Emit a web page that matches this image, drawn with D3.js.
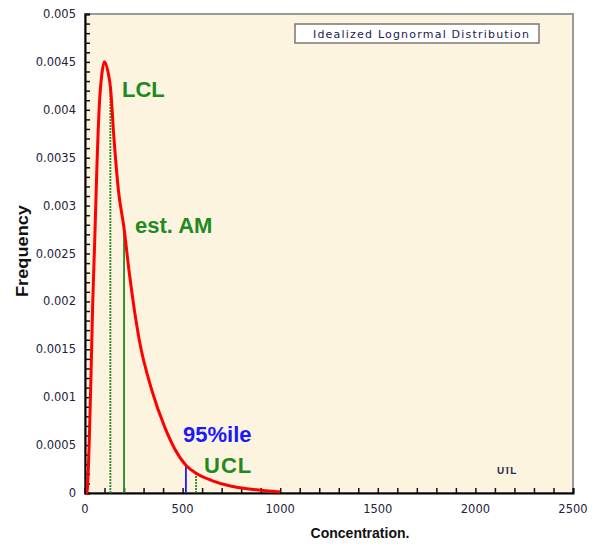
<!DOCTYPE html>
<html lang="en">
<head>
    <meta charset="utf-8">
    <title>Idealized Lognormal Distribution</title>
    <style type="text/css">
        body { margin: 0; background: #fff; }
        svg { font-family: "Liberation Sans", Arial, sans-serif; }
    </style>
</head>
<body>
   <svg class="svg_ln" width="596" height="546"></svg>

   <script src="https://d3js.org/d3.v7.min.js"></script>
   <script>
        // curve points (concentration, frequency)
        var conc = [5, 9, 22, 31, 39, 50, 60, 73, 87, 99, 119, 130, 149, 171, 200, 227, 278, 342, 410, 460, 517, 569, 650, 750, 850, 1000];
        var freq = [0, 0, 0.000553, 0.001253, 0.001945, 0.002641, 0.00334, 0.004032, 0.004384, 0.004502, 0.004384, 0.004241,
                    0.003685, 0.003163, 0.002763, 0.002296, 0.001597, 0.001075, 0.00068, 0.00046, 0.00029, 0.000206,
                    0.00013, 0.00007, 0.00004, 0.00001];

        // vertical marker lines
        var markNames  = ['LCL', 'est. AM', '95%ile', 'UCL'];
        var markX      = [130, 200, 517, 569];
        var markTop    = [0.004241, 0.002763, 0.000285, 0.000206];

        var xTicks = [0, 500, 1000, 1500, 2000, 2500];
        var yTicks = [0, 0.0005, 0.001, 0.0015, 0.002, 0.0025, 0.003, 0.0035, 0.004, 0.0045, 0.005];

        var svg = d3.select('.svg_ln'),
            padding = {top: 14, right: 23, bottom: 53, left: 85},
            w = 596 - padding.left - padding.right,
            h = 546 - padding.top - padding.bottom;

        var g = svg.append('g')
                    .attr('transform', 'translate(' + padding.left + ',' + padding.top + ')');

        var x = d3.scaleLinear().domain([0, 2500]).range([0, w]);
        var y = d3.scaleLinear().domain([0, 0.005]).range([h, 0]);

        // plot background + frame
        g.append('rect')
            .attr('width', w).attr('height', h)
            .attr('fill', '#fdf4e0')
            .attr('stroke', '#9a9a9a').attr('stroke-width', 2);

        // minor/major ticks pointing inward
        var xAxis = d3.axisTop(x).tickValues(d3.range(0, 2501, 100)).tickSize(5).tickFormat('');
        var yAxis = d3.axisRight(y).tickValues(d3.range(0, 51).map(function(i) { return i * 0.0001; })).tickSize(5).tickFormat('');

        var gx = g.append('g').attr('transform', 'translate(0,' + h + ')').call(xAxis);
        var gy = g.append('g').call(yAxis);
        [gx, gy].forEach(function(a) {
            a.select('.domain').attr('stroke', '#000').attr('stroke-width', 2);
            a.selectAll('.tick line').attr('stroke', '#111').attr('stroke-width', 1.5);
        });

        // tick labels
        g.selectAll('.xl').data(xTicks).enter().append('text')
            .attr('x', function(d) { return x(d); })
            .attr('y', h + 20)
            .attr('text-anchor', 'middle')
            .attr('font-family', 'DejaVu Sans')
            .attr('font-size', 11.5).attr('fill', '#1e2240')
            .text(function(d) { return d; });

        g.selectAll('.yl').data(yTicks).enter().append('text')
            .attr('x', -9)
            .attr('y', function(d) { return y(d) + 4; })
            .attr('text-anchor', 'end')
            .attr('font-family', 'DejaVu Sans')
            .attr('font-size', 11.5).attr('fill', '#1e2240')
            .text(function(d) { return d; });

        // axis titles
        svg.append('text')
            .attr('x', 360).attr('y', 538)
            .attr('text-anchor', 'middle')
            .attr('font-size', 14).attr('font-weight', 'bold').attr('fill', '#111')
            .text('Concentration.');

        svg.append('text')
            .attr('transform', 'translate(28,251) rotate(-90)')
            .attr('text-anchor', 'middle')
            .attr('font-size', 16).attr('font-weight', 'bold').attr('fill', '#111')
            .attr('textLength', 92).attr('lengthAdjust', 'spacingAndGlyphs')
            .text('Frequency');

        // marker lines
        var markColor = ['#1f8a1f', '#1f8a1f', '#1a1aff', '#1f8a1f'];
        var markDash  = ['2,1', null, null, '2,1'];
        g.selectAll('.mk').data(markX).enter().append('line')
            .attr('x1', function(d) { return x(d); })
            .attr('x2', function(d) { return x(d); })
            .attr('y1', h)
            .attr('y2', function(d, i) { return y(markTop[i]); })
            .attr('stroke', function(d, i) { return markColor[i]; })
            .attr('stroke-width', 1.8)
            .attr('stroke-dasharray', function(d, i) { return markDash[i]; });

        // lognormal curve
        var pts = conc.map(function(c, i) { return [c, freq[i]]; });
        g.append('path')
            .datum(pts)
            .attr('fill', 'none')
            .attr('stroke', '#ff0000')
            .attr('stroke-width', 3)
            .attr('d', d3.line()
                .x(function(d) { return x(d[0]); })
                .y(function(d) { return y(d[1]); })
                .curve(d3.curveMonotoneX));

        // marker labels
        var labPos = [[122, 97], [135, 233], [183, 442], [204, 473]];
        svg.selectAll('.ml').data(markNames).enter().append('text')
            .attr('x', function(d, i) { return labPos[i][0]; })
            .attr('y', function(d, i) { return labPos[i][1]; })
            .attr('font-size', 22).attr('font-weight', 'bold')
            .attr('letter-spacing', function(d) { return d === 'UCL' ? 1 : 0; })
            .attr('fill', function(d, i) { return markColor[i]; })
            .text(function(d) { return d; });

        // partly hidden UTL label
        svg.append('clipPath').attr('id', 'utlclip')
            .append('rect').attr('x', 490).attr('y', 467).attr('width', 40).attr('height', 10);
        svg.append('text')
            .attr('x', 497).attr('y', 474)
            .attr('clip-path', 'url(#utlclip)')
            .attr('font-size', 10).attr('font-weight', 'bold').attr('fill', '#2a2a50')
            .text('UTL');

        // legend box
        svg.append('rect')
            .attr('x', 295).attr('y', 24).attr('width', 244).attr('height', 19)
            .attr('fill', '#fff').attr('stroke', '#777').attr('stroke-width', 1.5);
        svg.append('text')
            .attr('x', 313).attr('y', 38)
            .attr('font-family', 'DejaVu Sans')
            .attr('font-size', 11).attr('fill', '#1a2050')
            .attr('textLength', 216).attr('lengthAdjust', 'spacing')
            .text('Idealized Lognormal Distribution');
   </script>
</body>
</html>
